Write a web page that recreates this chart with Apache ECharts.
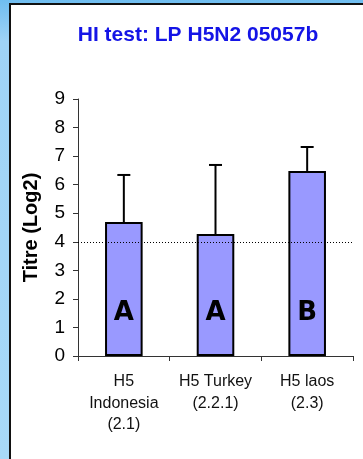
<!DOCTYPE html>
<html><head><meta charset="utf-8">
<script src="https://cdn.jsdelivr.net/npm/echarts@6/dist/echarts.min.js"></script>
<style>
html,body{margin:0;padding:0;width:363px;height:459px;overflow:hidden;background:#fff;}
#chart{position:absolute;left:0;top:0;width:363px;height:459px;}
</style></head>
<body>
<div id="chart"></div>
<script>
const categories = ["H5\nIndonesia\n(2.1)", "H5 Turkey\n(2.2.1)", "H5 laos\n(2.3)"];
const meanTitre = [4.69, 4.27, 6.48];
const upperTitre = [6.34, 6.69, 7.32];
const groupLetters = ["A", "A", "B"];
const thresholdValue = 4;
const yTicks = [0, 9, 1];

const chart = echarts.init(document.getElementById('chart'), null, {renderer: 'canvas'});
chart.setOption({
  backgroundColor: '#fff',
  animation: false,
  graphic: [
    {type: 'rect', left: 0, top: 0, z: -10, silent: true,
     shape: {width: 363, height: 459},
     style: {fill: new echarts.graphic.LinearGradient(0, 0, 0, 1, [{offset: 0, color: '#6fbdf0'}, {offset: 0.09, color: '#9fd3f6'}, {offset: 1, color: '#a8d9f8'}])}},
    {type: 'rect', left: 9, top: 3, z: -9, silent: true,
     shape: {width: 360, height: 462},
     style: {fill: '#111'}},
    {type: 'rect', left: 11, top: 5, z: -8, silent: true,
     shape: {width: 360, height: 462},
     style: {fill: '#fff'}}
  ],
  title: {
    text: 'HI test: LP H5N2 05057b',
    left: 193, top: 20, textAlign: 'center',
    textStyle: {color: '#1414e6', fontSize: 21, fontWeight: 'bold', fontFamily: 'Liberation Sans, Arial, sans-serif'}
  },
  grid: {left: 78, right: 10, top: 99, bottom: 103},
  xAxis: {
    type: 'category', data: categories,
    axisLine: {lineStyle: {color: '#333', width: 1}},
    axisTick: {show: true, length: 5, inside: false, lineStyle: {color: '#333'}},
    axisLabel: {color: '#111', fontSize: 16, lineHeight: 21.5, margin: 15, fontFamily: 'Liberation Sans, Arial, sans-serif', interval: 0}
  },
  yAxis: {
    type: 'value', min: yTicks[0], max: yTicks[1], interval: yTicks[2],
    name: 'Titre (Log2)', nameLocation: 'middle', nameGap: 37, nameRotate: 90,
    nameTextStyle: {color: '#000', fontSize: 20, fontWeight: 'bold', fontFamily: 'Liberation Sans, Arial, sans-serif'},
    axisLine: {show: true, lineStyle: {color: '#333', width: 1}},
    axisTick: {show: true, length: 5, lineStyle: {color: '#333'}},
    splitLine: {show: false},
    axisLabel: {color: '#000', fontSize: 19, margin: 13, fontFamily: 'Liberation Sans, Arial, sans-serif'}
  },
  series: [
    {
      type: 'bar', data: meanTitre, barWidth: '41%',
      itemStyle: {color: '#9999ff', borderColor: '#000', borderWidth: 2},
      label: {
        show: true, position: 'insideBottom', distance: 30,
        formatter: p => groupLetters[p.dataIndex],
        fontSize: 26, fontWeight: 'bold', color: '#000',
        fontFamily: 'Comic Sans MS, DejaVu Sans, sans-serif'
      },
      markLine: {
        silent: true, symbol: ['none', 'none'], label: {show: false},
        lineStyle: {type: [1, 2], color: '#000', width: 1},
        data: [{yAxis: thresholdValue}]
      },
      z: 2
    },
    {
      type: 'custom',
      data: meanTitre.map((m, i) => [i, m, upperTitre[i]]),
      renderItem: function (params, api) {
        const base = api.coord([api.value(0), api.value(1)]);
        const top = api.coord([api.value(0), api.value(2)]);
        const hw = 6.5;
        return {
          type: 'group',
          children: [
            {type: 'line', shape: {x1: base[0], y1: base[1], x2: top[0], y2: top[1]}, style: {stroke: '#000', lineWidth: 2}},
            {type: 'line', shape: {x1: top[0] - hw, y1: top[1], x2: top[0] + hw, y2: top[1]}, style: {stroke: '#000', lineWidth: 2}}
          ]
        };
      },
      z: 3
    }
  ]
});
</script>
</body></html>
